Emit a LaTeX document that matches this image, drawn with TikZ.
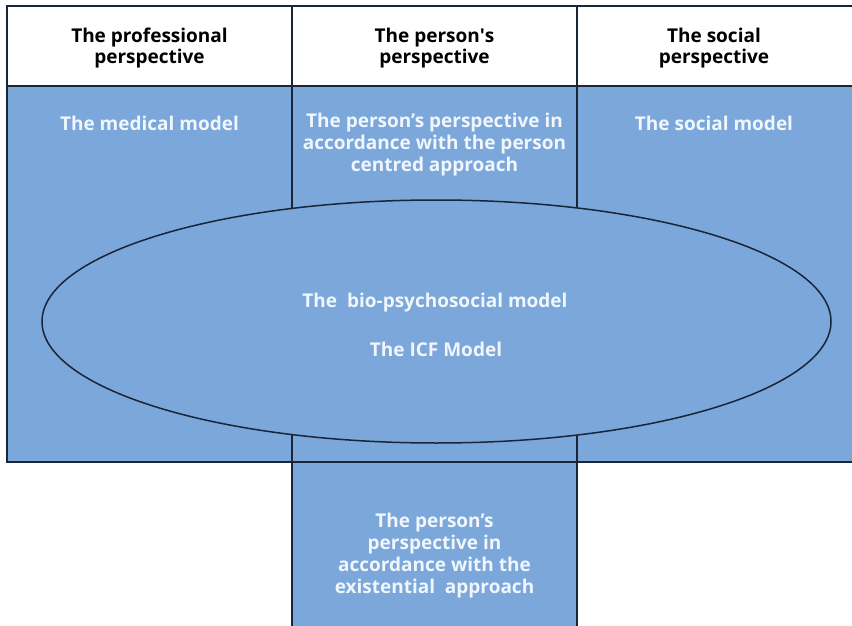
\documentclass[tikz,border=0pt]{standalone}
\usepackage{fontspec}
\setmainfont{Open Sans}
\usetikzlibrary{shapes.geometric}

\definecolor{panelblue}{HTML}{7BA7DA}
\definecolor{rulecol}{HTML}{1A2538}
\definecolor{paletext}{HTML}{F0F6FC}

\tikzset{
  rulestyle/.style={draw=rulecol, line width=1.5pt},
  headtext/.style={align=center, text=black, font=\bfseries\fontsize{19}{21}\selectfont, inner sep=0pt},
  bodytext/.style={align=center, text=paletext, font=\bfseries\fontsize{19}{22}\selectfont, inner sep=0pt},
}

\begin{document}
\begin{tikzpicture}[x=1pt, y=-1pt]
  \useasboundingbox (0,0) rectangle (852,626);
  \clip (0,0) rectangle (852,626);
  \fill[white] (0,0) rectangle (852,626);

  % blue areas: main band and the lower middle column
  \fill[panelblue] (7,86) rectangle (856,462);
  \fill[panelblue] (292,462) rectangle (577,630);

  % grid lines
  \draw[rulestyle] (856,6) -- (7,6) -- (7,462) -- (856,462);
  \draw[rulestyle] (7,86) -- (856,86);
  \draw[rulestyle] (292,6) -- (292,630);
  \draw[rulestyle] (577,6) -- (577,630);

  % central ellipse
  \draw[rulestyle, fill=panelblue] (436.5,321.5) ellipse [x radius=394.5pt, y radius=121.5pt];

  % column headers
  \node[headtext] (hprof) at (149.5,48) {The professional\\perspective};
  \node[headtext] (hpers) at (434.5,48) {The person\textquotesingle s\\perspective};
  \node[headtext] (hsoc)  at (714,48)   {The social\\perspective};

  % model labels
  \node[bodytext] (medical) at (149.5,123) {The medical model};
  \node[bodytext] (centred) at (434.5,145) {The person’s perspective in\\accordance with the person\\centred approach};
  \node[bodytext] (social)  at (714,123)   {The social model};
  \node[bodytext] (biopsy)  at (435,303)   {The~ bio-psychosocial model};
  \node[bodytext] (icf)     at (436,349)   {The ICF Model};
  \node[bodytext] (exist)   at (434.5,556) {The person’s\\perspective in\\accordance with the\\existential~ approach};
\end{tikzpicture}
\end{document}
